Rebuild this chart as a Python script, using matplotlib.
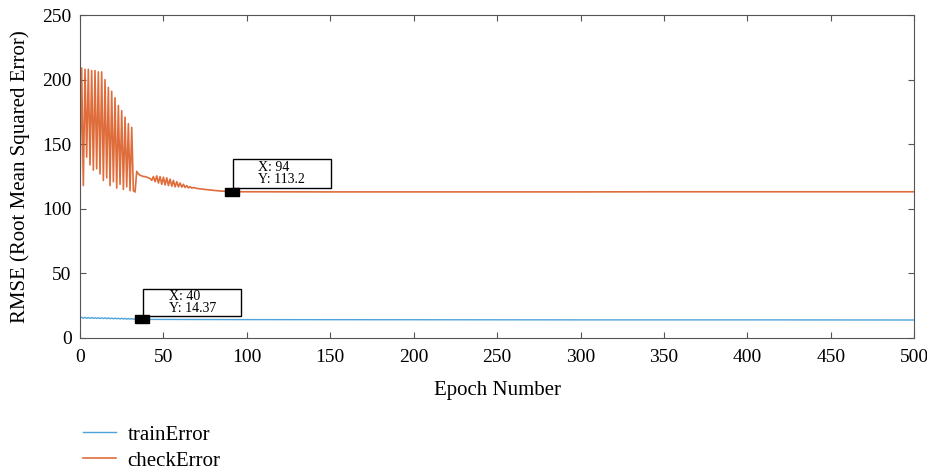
import matplotlib.pyplot as plt
from matplotlib.patches import Rectangle
from matplotlib.path import Path

plt.rcParams['font.family'] = ['Liberation Serif', 'DejaVu Serif']

# checkError
check_epochs = list(range(0, 69)) + [70, 75, 80, 85, 90, 94, 100, 150, 200, 250, 300, 350, 400, 450, 500]
check_err = [
    115, 209, 118, 208, 140, 208, 134, 207, 130, 207, 131, 206, 127, 206, 122, 200,
    124, 194, 118, 191, 121, 186, 116, 180, 119, 176, 115, 171, 117, 166, 114, 163,
    114, 113, 129, 127, 126, 125.5, 125, 125, 124.5, 124, 123.5,
    122, 125, 121, 125.5, 120, 125, 119, 124.5, 118.5, 124, 118, 123, 117.5, 122,
    117, 121, 117, 120, 116.8, 119, 116.5, 118, 116.2, 117.2, 116, 116.5,
    115.8, 115, 114.3, 113.7, 113.4, 113.2, 113.2, 113.1, 113.1, 113.1, 113.1, 113.2, 113.2, 113.2, 113.2,
]

# trainError
train_epochs = list(range(0, 41)) + [60, 100, 200, 300, 400, 500]
train_err = [
    15.6, 16.0, 15.3, 15.9, 15.2, 15.8, 15.2, 15.8, 15.1, 15.7, 15.1, 15.7, 15.0, 15.6,
    15.0, 15.6, 14.9, 15.5, 14.9, 15.4, 14.8, 15.4, 14.8, 15.3, 14.7, 15.2, 14.7, 15.1,
    14.6, 15.0, 14.6, 14.9, 14.5, 14.8, 14.5, 14.7, 14.4, 14.6, 14.4, 14.5, 14.37,
    14.3, 14.2, 14.1, 14.0, 14.0, 13.9,
]

tips = [(94, 113.2), (40, 14.37)]

fig = plt.figure(figsize=(9.28, 4.72), dpi=100)
ax = fig.add_axes([0.0862, 0.284, 0.899, 0.684])

ax.plot(train_epochs, train_err, color='#4DA3DB', lw=1.0, label='trainError')
ax.plot(check_epochs, check_err, color='#D95319', lw=1.2, alpha=0.85, label='checkError')

# data tips
rect = Path([(-1.6, -1), (1.6, -1), (1.6, 1), (-1.6, 1), (-1.6, -1)])
boxes = [(91.5, 116.5, 59.0, 22.0), (37.8, 17.0, 58.7, 20.9)]
for (tx, ty), (bx0, by0, bw, bh) in zip(tips, boxes):
    ax.plot([tx - 3], [ty], marker=rect, color='black', markersize=9.4, zorder=5)
    ax.add_patch(Rectangle((bx0, by0), bw, bh, fc='white', ec='black', lw=1.0, zorder=4))
    ax.text(bx0 + bw * 0.26, by0 + bh * 0.5, f'X: {tx}\nY: {ty}', fontsize=10,
            va='center', ha='left', linespacing=0.9, zorder=6)

ax.set_xlim(0, 500)
ax.set_ylim(0, 250)
ax.set_xticks(range(0, 501, 50))
ax.set_yticks(range(0, 251, 50))
ax.tick_params(direction='in', top=True, right=True, labelsize=14, length=4, color='#555555')
ax.tick_params(axis='x', pad=8)
ax.tick_params(axis='y', pad=6)
for s in ax.spines.values():
    s.set_color('#555555')
ax.set_xlabel('Epoch Number', fontsize=15, labelpad=11)
ax.set_ylabel('RMSE (Root Mean Squared Error)', fontsize=15, labelpad=9)

fig.legend(loc='upper left', bbox_to_anchor=(0.08, 0.117), frameon=False, fontsize=15,
           handlelength=1.6, handletextpad=0.55, labelspacing=0.3, borderaxespad=0)

plt.savefig('out.png', dpi=100)
